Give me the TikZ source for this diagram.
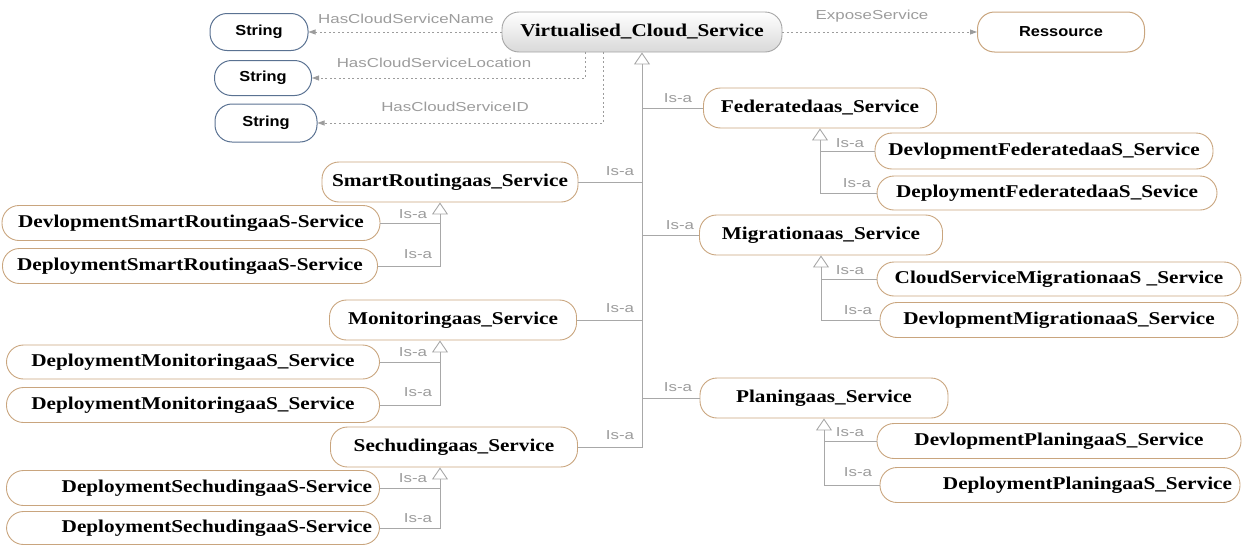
\documentclass[tikz,border=0pt]{standalone}
\usepackage{fontspec}
\setmainfont{Liberation Serif}
\newfontfamily\nfont[FakeStretch=1.18]{Liberation Serif}
\newfontfamily\sfont[FakeStretch=1.13]{Liberation Sans}
\newfontfamily\lfont[FakeStretch=1.3]{Liberation Sans}
\usetikzlibrary{arrows.meta,calc}
\definecolor{brn}{HTML}{C9A57E}
\definecolor{blu}{HTML}{5A7292}
\definecolor{lg}{HTML}{9C9C9C}
\definecolor{ln}{HTML}{A8A8A8}
\tikzset{
 cls/.style={draw=brn, line width=0.9pt, rectangle, rounded corners=17pt, inner sep=0pt, font=\nfont\bfseries\fontsize{18}{20}\selectfont, minimum height=35pt},
 lit/.style={draw=blu, line width=1pt, rectangle, rounded corners=17pt, inner sep=0pt, font=\sfont\bfseries\fontsize{14.5}{16}\selectfont, minimum height=36pt},
 res/.style={lit, draw=brn},
 lbl/.style={font=\lfont\fontsize{13}{15}\selectfont, text=lg, inner sep=0pt},
 isa/.style={draw=ln, line width=0.9pt},
 isatip/.style={isa, -{Triangle[open, length=12pt, width=16pt]}},
 prop/.style={draw=lg, line width=0.8pt, dash pattern=on 2pt off 2.5pt, -{Triangle[length=7pt,width=5pt]}},
}
\begin{document}
\begin{tikzpicture}[x=1pt,y=-1pt]
\useasboundingbox (0,0) rectangle (1243,544);
% top
\node[cls, draw=gray!70, top color=white, bottom color=gray!30, minimum width=280pt, minimum height=40pt] (vcs) at (642,32) {Virtualised\_Cloud\_Service};
\node[lit, minimum width=98pt, minimum height=37pt] (str1) at (259,32) {String};
\node[lit, minimum width=97pt, minimum height=35pt] (str2) at (263,78) {String};
\node[lit, minimum width=102pt, minimum height=38pt] (str3) at (266,123) {String};
\node[res, minimum width=167pt, minimum height=40pt] (res) at (1061,32) {Ressource};
% right
\node[cls, minimum width=233pt, minimum height=40pt] (fed) at (820,108) {Federatedaas\_Service};
\node[cls, minimum width=338pt, minimum height=36pt] (devfed) at (1044,151) {DevlopmentFederatedaaS\_Service};
\node[cls, minimum width=340pt, minimum height=34pt] (depfed) at (1047,193) {DeploymentFederatedaaS\_Sevice};
\node[cls, minimum width=243pt, minimum height=40pt] (mig) at (821,235) {Migrationaas\_Service};
\node[cls, minimum width=364pt, minimum height=34pt] (csmig) at (1059,279) {CloudServiceMigrationaaS \_Service};
\node[cls, minimum width=358pt, minimum height=35pt] (devmig) at (1059,320) {DevlopmentMigrationaaS\_Service};
\node[cls, minimum width=248pt, minimum height=40pt] (plan) at (824,398) {Planingaas\_Service};
\node[cls, minimum width=364pt, minimum height=35pt] (devplan) at (1059,441) {DevlopmentPlaningaaS\_Service};
\node[cls, minimum width=360pt, minimum height=35pt] (depplan) at (1060,485) {\makebox[344pt][r]{DeploymentPlaningaaS\_Service}};
% left
\node[cls, minimum width=256pt, minimum height=40pt] (smart) at (450,182) {SmartRoutingaas\_Service};
\node[cls, minimum width=378pt, minimum height=35pt] (devsmart) at (191,223) {DevlopmentSmartRoutingaaS-Service};
\node[cls, minimum width=375pt, minimum height=35pt] (depsmart) at (190,266) {DeploymentSmartRoutingaaS-Service};
\node[cls, minimum width=247pt, minimum height=40pt] (mon) at (453,320) {Monitoringaas\_Service};
\node[cls, minimum width=373pt, minimum height=34pt] (depmon1) at (193,362) {DeploymentMonitoringaaS\_Service};
\node[cls, minimum width=373pt, minimum height=35pt] (depmon2) at (193,405) {DeploymentMonitoringaaS\_Service};
\node[cls, minimum width=247pt, minimum height=40pt] (sech) at (454,447) {Sechudingaas\_Service};
\node[cls, minimum width=373pt, minimum height=35pt] (depsech1) at (193,488) {\makebox[358pt][r]{DeploymentSechudingaaS-Service}};
\node[cls, minimum width=373pt, minimum height=33pt] (depsech2) at (193,528) {\makebox[358pt][r]{DeploymentSechudingaaS-Service}};
% properties
\draw[prop] (vcs.west) -- (str1.east);
\draw[prop] ($(vcs.south)+(-57,0)$) |- (str2.east);
\draw[prop] ($(vcs.south)+(-39,0)$) |- (str3.east);
\draw[prop] (vcs.east) -- (res.west);
\node[lbl] (l1) at (406,19) {HasCloudServiceName};
\node[lbl] (l2) at (434,63) {HasCloudServiceLocation};
\node[lbl] (l3) at (455,107) {HasCloudServiceID};
\node[lbl] (l4) at (872,16) {ExposeService};
% main trunk
\draw[isatip] (sech.east) -| (vcs.south);
\draw[isa] (smart.east) -- (smart.east -| vcs.south);
\draw[isa] (mon.east) -- (mon.east -| vcs.south);
\draw[isa] (fed.west) -- (fed.west -| vcs.south);
\draw[isa] (mig.west) -- (mig.west -| vcs.south);
\draw[isa] (plan.west) -- (plan.west -| vcs.south);
\node[lbl] at (678,98) {Is-a};
\node[lbl] at (680,225) {Is-a};
\node[lbl] at (678,387) {Is-a};
\node[lbl] at (620,171) {Is-a};
\node[lbl] at (620,308) {Is-a};
\node[lbl] at (620,435) {Is-a};
% right subtrees
\draw[isatip] (depfed.west) -| (fed.south);
\draw[isa] (devfed.west) -- (devfed.west -| fed.south);
\draw[isatip] (devmig.west) -| (mig.south);
\draw[isa] (csmig.west) -- (csmig.west -| mig.south);
\draw[isatip] (depplan.west) -| (plan.south);
\draw[isa] (devplan.west) -- (devplan.west -| plan.south);
\node[lbl] at (850,143) {Is-a};
\node[lbl] at (857,183) {Is-a};
\node[lbl] at (850,270) {Is-a};
\node[lbl] at (858,310) {Is-a};
\node[lbl] at (850,432) {Is-a};
\node[lbl] at (858,472) {Is-a};
% left subtrees
\coordinate (sa) at ($(smart.south)+(-10,0)$);
\coordinate (ma) at ($(mon.south)+(-13,0)$);
\coordinate (ca) at ($(sech.south)+(-14,0)$);
\draw[isatip] (depsmart.east) -| (sa);
\draw[isa] (devsmart.east) -- (devsmart.east -| sa);
\draw[isatip] (depmon2.east) -| (ma);
\draw[isa] (depmon1.east) -- (depmon1.east -| ma);
\draw[isatip] (depsech2.east) -| (ca);
\draw[isa] (depsech1.east) -- (depsech1.east -| ca);
\node[lbl] at (413,214) {Is-a};
\node[lbl] at (418,254) {Is-a};
\node[lbl] at (413,352) {Is-a};
\node[lbl] at (418,392) {Is-a};
\node[lbl] at (413,478) {Is-a};
\node[lbl] at (418,518) {Is-a};
\end{tikzpicture}
\end{document}
